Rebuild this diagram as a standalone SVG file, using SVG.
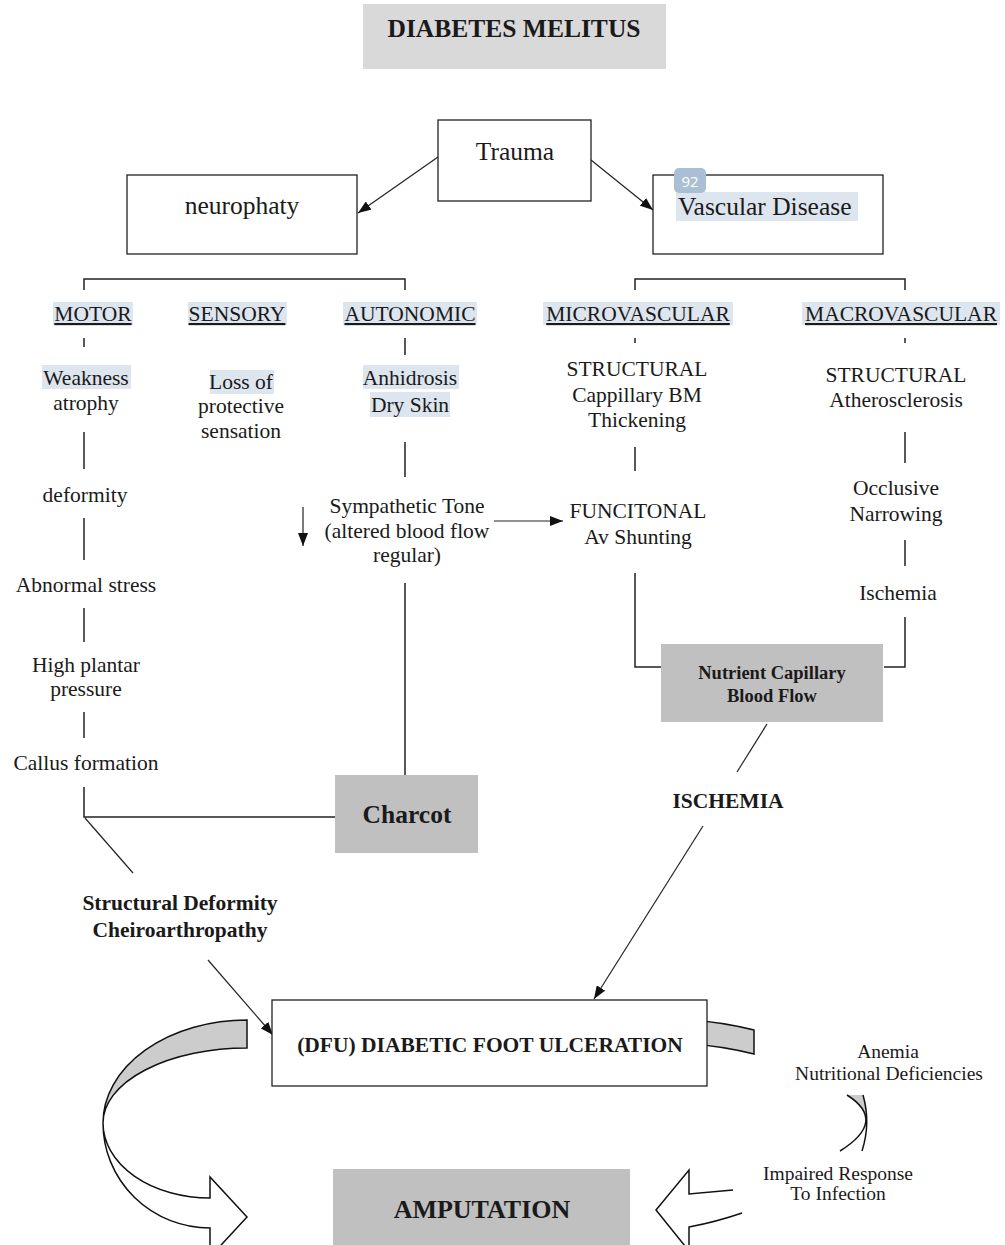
<svg xmlns="http://www.w3.org/2000/svg" width="1005" height="1245" viewBox="0 0 1005 1245">
<style>
.t{font-family:"Liberation Serif","Times New Roman",serif;fill:#1a1a1a;text-anchor:middle;font-size:21.5px}
.b{font-weight:bold}
.u{text-decoration:underline}
.box{fill:#fff;stroke:#222;stroke-width:1.3}
.gbox{fill:#c0c0c0;stroke:none}
.hl{fill:#dde5ee}
.ln{fill:none;stroke:#222;stroke-width:1.5}
.la{fill:none;stroke:#222;stroke-width:1.2}
.rib{stroke:#111;stroke-width:1.5}
</style>
<defs>
<marker id="ah" markerWidth="13" markerHeight="10" refX="13" refY="5" orient="auto" markerUnits="userSpaceOnUse"><path d="M0,0 L13,5 L0,10 Z" fill="#111"/></marker>
</defs>
<rect width="1005" height="1245" fill="#fff"/>

<g id="connectors">
<line class="la" x1="438" y1="157" x2="358" y2="213" marker-end="url(#ah)"/>
<line class="la" x1="591" y1="160" x2="653" y2="210" marker-end="url(#ah)"/>
<polyline class="ln" points="84,290 84,279 405,279 405,290"/>
<polyline class="ln" points="635,290 635,279 905,279 905,290"/>
<line class="ln" x1="84" y1="338" x2="84" y2="347"/>
<line class="ln" x1="405" y1="338" x2="405" y2="355"/>
<line class="ln" x1="635" y1="338" x2="635" y2="343"/>
<line class="ln" x1="905" y1="338" x2="905" y2="343"/>
<line class="ln" x1="84" y1="432" x2="84" y2="469"/>
<line class="ln" x1="84" y1="518" x2="84" y2="560"/>
<line class="ln" x1="84" y1="608" x2="84" y2="642"/>
<line class="ln" x1="84" y1="712" x2="84" y2="738"/>
<polyline class="ln" points="84,787 84,817 335,817"/>
<line class="la" x1="85" y1="818" x2="133" y2="873"/>
<line class="ln" x1="405" y1="442" x2="405" y2="477"/>
<line class="ln" x1="405" y1="583" x2="405" y2="775"/>
<line class="la" x1="303" y1="507" x2="303" y2="546" marker-end="url(#ah)"/>
<line class="la" x1="494" y1="521" x2="563" y2="521" marker-end="url(#ah)"/>
<line class="ln" x1="635" y1="447" x2="635" y2="471"/>
<polyline class="ln" points="635,573 635,667 661,667"/>
<line class="ln" x1="905" y1="432" x2="905" y2="463"/>
<line class="ln" x1="905" y1="540" x2="905" y2="566"/>
<polyline class="ln" points="905,617 905,667 884,667"/>
<line class="la" x1="767" y1="724" x2="737" y2="772"/>
<line class="la" x1="703" y1="826" x2="594" y2="999" marker-end="url(#ah)"/>
<line class="la" x1="208" y1="960" x2="273" y2="1035" marker-end="url(#ah)"/>
</g>

<g id="cycle-arrows">
<path class="rib" fill="#cccccc" d="M247,1020 A144,103 0 0 0 103,1123 A144,75 0 0 1 247,1048 Z"/>
<path class="rib" fill="#fff" d="M103,1123 A107,105 0 0 0 210,1228 L210,1257 L247,1217 L210,1177 L210,1198 A107,75 0 0 1 103,1123 Z"/>
<path class="rib" fill="#cccccc" d="M690,1020 Q722,1022 754,1030 L754,1054 Q722,1046 690,1044 Z"/>
<path fill="#cccccc" stroke="none" d="M847,1095 Q867.5,1108 866.5,1122.5 Q867,1109 863,1095 Z"/>
<path class="rib" fill="none" d="M847,1095 Q888,1121 840,1151"/>
<path class="rib" fill="none" d="M863,1095 Q871,1123 862,1151"/>
<path class="rib" fill="#fff" d="M733,1190 Q711,1192 689,1194 L689,1170 L656,1210 L689,1251 L689,1227 Q716,1222 742,1213"/>
</g>

<g id="title"><rect x="363" y="4" width="303" height="65" fill="#d9d9d9"/><text class="t b" x="514" y="37" style="font-size:25.5px">DIABETES MELITUS</text></g>
<g id="trauma"><rect class="box" x="438" y="120" width="153" height="81"/><text class="t" x="515" y="160" style="font-size:25.5px">Trauma</text></g>
<g id="neuropathy"><rect class="box" x="127" y="175" width="230" height="79"/><text class="t" x="242" y="214" style="font-size:25.5px">neurophaty</text></g>
<g id="vascular"><rect class="box" x="653" y="175" width="230" height="79"/><rect class="hl" x="676" y="192" width="182" height="29"/><rect x="674" y="168" width="32" height="25" rx="5" fill="#aabfd4"/><text x="690" y="187" style="font-family:'Open Sans','Liberation Sans',sans-serif;font-size:15px;fill:#fff;text-anchor:middle">92</text><text class="t" x="678" y="215" style="font-size:25.5px;text-anchor:start">Vascular Disease</text></g>

<g id="motor"><rect class="hl" x="53" y="302" width="80" height="23"/><text class="t u" x="93" y="321">MOTOR</text></g>
<g id="sensory"><rect class="hl" x="188" y="302" width="99" height="23"/><text class="t u" x="237" y="321">SENSORY</text></g>
<g id="autonomic"><rect class="hl" x="343" y="302" width="134" height="23"/><text class="t u" x="410" y="321">AUTONOMIC</text></g>
<g id="microvascular"><rect class="hl" x="543" y="302" width="190" height="23"/><text class="t u" x="638" y="321">MICROVASCULAR</text></g>
<g id="macrovascular"><rect class="hl" x="802" y="302" width="198" height="23"/><text class="t u" x="901" y="321">MACROVASCULAR</text></g>

<g id="weakness"><rect class="hl" x="42" y="365" width="89" height="24"/><text class="t" x="86" y="385">Weakness</text><text class="t" x="86" y="410">atrophy</text></g>
<g id="loss"><rect class="hl" x="210" y="370" width="64" height="24"/><text class="t" x="241" y="389">Loss of</text><text class="t" x="241" y="413">protective</text><text class="t" x="241" y="438">sensation</text></g>
<g id="anhidrosis"><rect class="hl" x="363" y="365" width="96" height="24"/><rect class="hl" x="370" y="392" width="80" height="25"/><text class="t" x="410" y="385">Anhidrosis</text><text class="t" x="410" y="412">Dry Skin</text></g>
<g id="structural-micro"><text class="t" x="637" y="376">STRUCTURAL</text><text class="t" x="637" y="402">Cappillary BM</text><text class="t" x="637" y="427">Thickening</text></g>
<g id="structural-macro"><text class="t" x="896" y="382">STRUCTURAL</text><text class="t" x="896" y="407">Atherosclerosis</text></g>

<g id="deformity"><text class="t" x="85" y="502">deformity</text></g>
<g id="abnormal"><text class="t" x="86" y="592">Abnormal stress</text></g>
<g id="plantar"><text class="t" x="86" y="672">High plantar</text><text class="t" x="86" y="696">pressure</text></g>
<g id="callus"><text class="t" x="86" y="770">Callus formation</text></g>
<g id="sympathetic"><text class="t" x="407" y="513">Sympathetic Tone</text><text class="t" x="407" y="538">(altered blood flow</text><text class="t" x="407" y="562">regular)</text></g>
<g id="functional"><text class="t" x="638" y="518">FUNCITONAL</text><text class="t" x="638" y="544">Av Shunting</text></g>
<g id="occlusive"><text class="t" x="896" y="495">Occlusive</text><text class="t" x="896" y="521">Narrowing</text></g>
<g id="ischemia-macro"><text class="t" x="898" y="600">Ischemia</text></g>
<g id="nutrient"><rect class="gbox" x="661" y="644" width="222" height="78"/><text class="t b" x="772" y="679" style="font-size:18.5px">Nutrient Capillary</text><text class="t b" x="772" y="702" style="font-size:18.5px">Blood Flow</text></g>
<g id="charcot"><rect class="gbox" x="335" y="775" width="143" height="78"/><text class="t b" x="407" y="823" style="font-size:25.5px">Charcot</text></g>
<g id="ischemia"><text class="t b" x="728" y="808">ISCHEMIA</text></g>
<g id="structural-deformity"><text class="t b" x="180" y="910">Structural Deformity</text><text class="t b" x="180" y="937">Cheiroarthropathy</text></g>
<g id="dfu"><rect class="box" x="272" y="1000" width="435" height="86"/><text class="t b" x="490" y="1052">(DFU) DIABETIC FOOT ULCERATION</text></g>
<g id="amputation"><rect class="gbox" x="333" y="1169" width="297" height="80"/><text class="t b" x="482" y="1218" style="font-size:26px">AMPUTATION</text></g>
<g id="anemia"><text class="t" x="888" y="1058" style="font-size:19.5px">Anemia</text><text class="t" x="889" y="1080" style="font-size:19.5px">Nutritional Deficiencies</text></g>
<g id="impaired"><text class="t" x="838" y="1180" style="font-size:19.5px">Impaired Response</text><text class="t" x="838" y="1200" style="font-size:19.5px">To Infection</text></g>
</svg>
